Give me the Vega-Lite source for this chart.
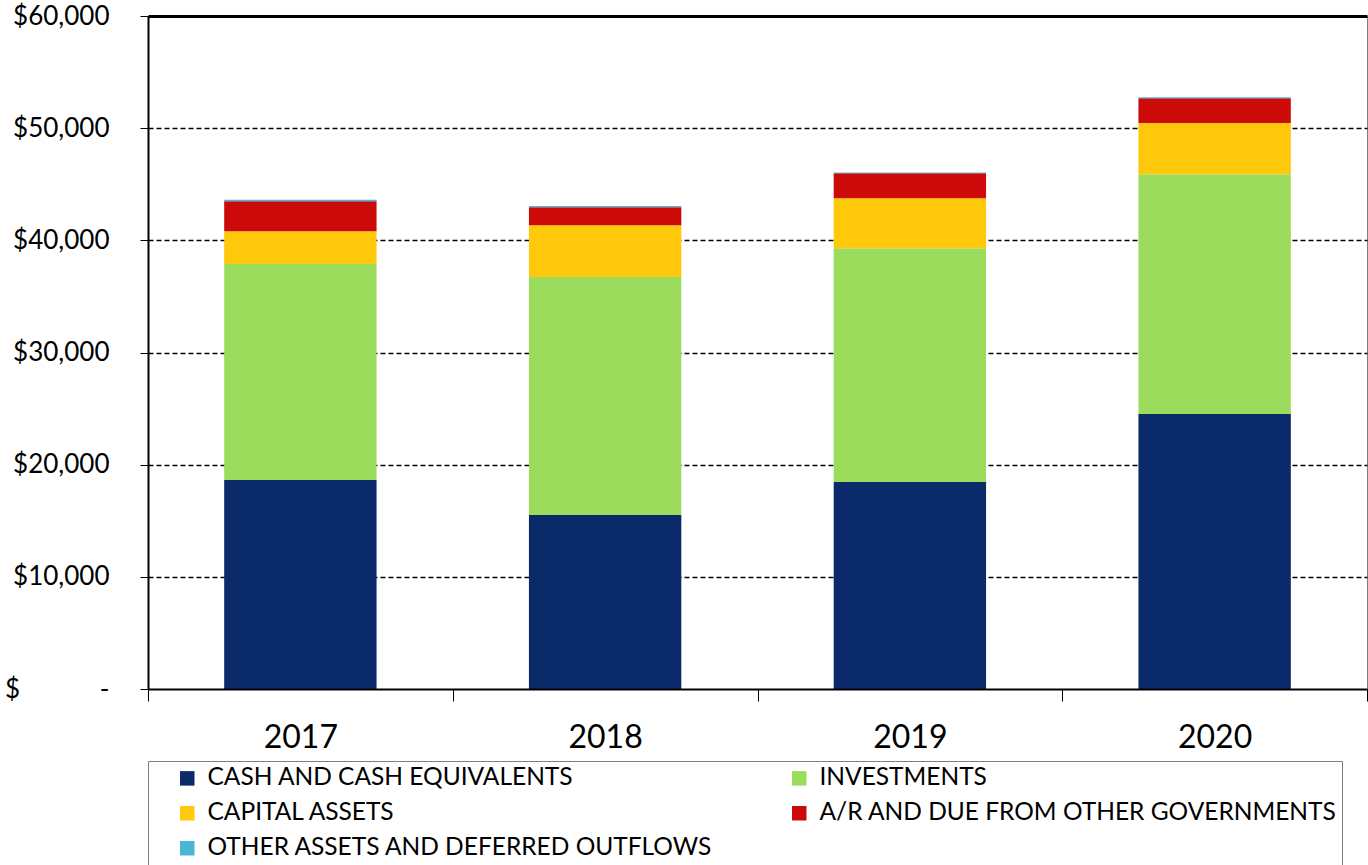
{
  "$schema": "https://vega.github.io/schema/vega-lite/v6.json",
  "width": 1219,
  "height": 673,
  "autosize": {"type": "none"},
  "padding": {"left": 148, "top": 16, "right": 1, "bottom": 176},
  "background": "white",
  "config": {
    "font": "Lato",
    "view": {"stroke": "#808080", "strokeWidth": 1}
  },
  "data": {
    "values": [
      {"year": "2017", "category": "CASH AND CASH EQUIVALENTS", "o": 1, "amount": 18630},
      {"year": "2017", "category": "INVESTMENTS", "o": 2, "amount": 19250},
      {"year": "2017", "category": "CAPITAL ASSETS", "o": 3, "amount": 2940},
      {"year": "2017", "category": "A/R AND DUE FROM OTHER GOVERNMENTS", "o": 4, "amount": 2670},
      {"year": "2017", "category": "OTHER ASSETS AND DEFERRED OUTFLOWS", "o": 5, "amount": 120},
      {"year": "2018", "category": "CASH AND CASH EQUIVALENTS", "o": 1, "amount": 15510},
      {"year": "2018", "category": "INVESTMENTS", "o": 2, "amount": 21210},
      {"year": "2018", "category": "CAPITAL ASSETS", "o": 3, "amount": 4630},
      {"year": "2018", "category": "A/R AND DUE FROM OTHER GOVERNMENTS", "o": 4, "amount": 1610},
      {"year": "2018", "category": "OTHER ASSETS AND DEFERRED OUTFLOWS", "o": 5, "amount": 90},
      {"year": "2019", "category": "CASH AND CASH EQUIVALENTS", "o": 1, "amount": 18450},
      {"year": "2019", "category": "INVESTMENTS", "o": 2, "amount": 20850},
      {"year": "2019", "category": "CAPITAL ASSETS", "o": 3, "amount": 4460},
      {"year": "2019", "category": "A/R AND DUE FROM OTHER GOVERNMENTS", "o": 4, "amount": 2230},
      {"year": "2019", "category": "OTHER ASSETS AND DEFERRED OUTFLOWS", "o": 5, "amount": 60},
      {"year": "2020", "category": "CASH AND CASH EQUIVALENTS", "o": 1, "amount": 24510},
      {"year": "2020", "category": "INVESTMENTS", "o": 2, "amount": 21390},
      {"year": "2020", "category": "CAPITAL ASSETS", "o": 3, "amount": 4550},
      {"year": "2020", "category": "A/R AND DUE FROM OTHER GOVERNMENTS", "o": 4, "amount": 2220},
      {"year": "2020", "category": "OTHER ASSETS AND DEFERRED OUTFLOWS", "o": 5, "amount": 80}
    ]
  },
  "mark": {"type": "bar", "width": {"band": 0.5}},
  "encoding": {
    "x": {
      "field": "year",
      "type": "nominal",
      "scale": {"paddingInner": 0, "paddingOuter": 0},
      "axis": {
        "title": null,
        "labelAngle": 0,
        "labelFontSize": 32,
        "labelColor": "black",
        "labelPadding": 21,
        "domainColor": "black",
        "domainWidth": 2,
        "tickColor": "black",
        "tickWidth": 1,
        "tickSize": 12,
        "tickBand": "extent",
        "zindex": 1
      }
    },
    "y": {
      "field": "amount",
      "type": "quantitative",
      "aggregate": "sum",
      "stack": "zero",
      "scale": {"domain": [0, 60000], "nice": false},
      "axis": {
        "title": null,
        "values": [0, 10000, 20000, 30000, 40000, 50000, 60000],
        "labelExpr": "datum.value == 0 ? '$\u00a0\u00a0\u00a0\u00a0\u00a0\u00a0\u00a0\u00a0\u00a0\u00a0\u00a0\u00a0-' : '$' + format(datum.value, ',')",
        "labelFontSize": 26,
        "labelColor": "black",
        "labelPadding": 31,
        "domainColor": "black",
        "domainWidth": 2,
        "tickColor": "black",
        "tickSize": 8,
        "tickWidth": 1,
        "grid": true,
        "gridColor": "black",
        "gridOpacity": {"condition": {"test": "datum.value == 0", "value": 0}, "value": 1},
        "gridWidth": {"condition": {"test": "datum.value == 60000", "value": 3}, "value": 1.5},
        "gridDash": {"condition": {"test": "datum.value == 60000", "value": []}, "value": [5, 3]}
      }
    },
    "color": {
      "field": "category",
      "type": "nominal",
      "sort": ["CASH AND CASH EQUIVALENTS", "INVESTMENTS", "CAPITAL ASSETS", "A/R AND DUE FROM OTHER GOVERNMENTS", "OTHER ASSETS AND DEFERRED OUTFLOWS"],
      "scale": {
        "domain": ["CASH AND CASH EQUIVALENTS", "INVESTMENTS", "CAPITAL ASSETS", "A/R AND DUE FROM OTHER GOVERNMENTS", "OTHER ASSETS AND DEFERRED OUTFLOWS"],
        "range": ["#0B2A69", "#9BDC5C", "#FFC80B", "#CC0A0A", "#4AB5D6"]
      },
      "legend": {
        "title": null,
        "orient": "none",
        "legendX": 0,
        "legendY": 745,
        "direction": "horizontal",
        "columns": 2,
        "symbolType": "square",
        "symbolSize": 210,
        "symbolStrokeWidth": 0,
        "symbolOffset": 22,
        "labelFontSize": 24.5,
        "labelColor": "black",
        "labelLimit": 800,
        "rowPadding": 10,
        "columnPadding": 52,
        "padding": 5,
        "strokeColor": "#808080",
        "labelOffset": 8
      }
    },
    "order": {"field": "o", "type": "quantitative", "sort": "ascending"}
  }
}
